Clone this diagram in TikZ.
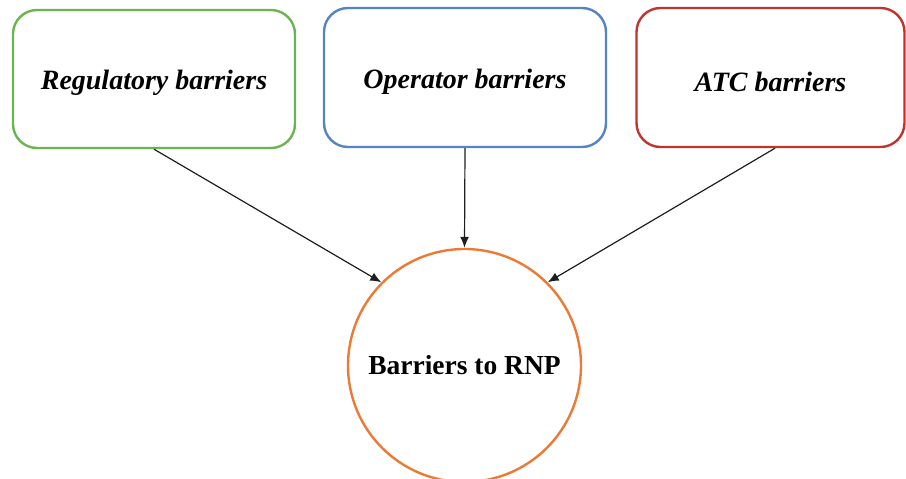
\documentclass[tikz,border=0pt]{standalone}
\usepackage{fontspec}
\setmainfont{Liberation Serif}
\usetikzlibrary{arrows.meta}
\definecolor{boxgreen}{RGB}{106,180,82}
\definecolor{boxblue}{RGB}{84,132,194}
\definecolor{boxred}{RGB}{192,52,46}
\definecolor{circorange}{RGB}{234,122,52}
\definecolor{arrowgray}{RGB}{30,30,30}
\newcommand{\boxtext}[1]{\raisebox{-4pt}[\height][\depth]{#1}}
\tikzset{
  barrierbox/.style={draw, line width=2.4pt, rounded corners=24pt, fill=white,
    inner sep=0pt, font=\fontsize{28}{33}\selectfont\bfseries\itshape},
  goalcircle/.style={circle, draw=circorange, line width=2.4pt, inner sep=0pt,
    minimum size=233pt, font=\fontsize{27.5}{33}\selectfont\bfseries},
  link/.style={draw=arrowgray, line width=1.2pt, -{Latex[length=11pt,width=9pt]}}
}
\begin{document}
\begin{tikzpicture}[x=1pt,y=-1pt]
\useasboundingbox (0,0) rectangle (906,479);
\clip (0,0) rectangle (906,479);
\node[barrierbox, draw=boxgreen, minimum width=282pt, minimum height=138pt] (g) at (154,79) {\boxtext{Regulatory barriers}};
\node[barrierbox, draw=boxblue, minimum width=282pt, minimum height=139pt] (b) at (465,77.5) {\boxtext{Operator barriers}};
\node[barrierbox, draw=boxred, minimum width=268pt, minimum height=139pt] (r) at (770.5,77.5) {\boxtext{ATC barriers}};
\node[goalcircle] (c) at (464.5,365.5) {Barriers to RNP};
\draw[link] (g.south) -- (c.135);
\draw[link] (b.south) -- (c.north);
\draw[link] ([xshift=4.5pt]r.south) -- (c.45);
\end{tikzpicture}
\end{document}
